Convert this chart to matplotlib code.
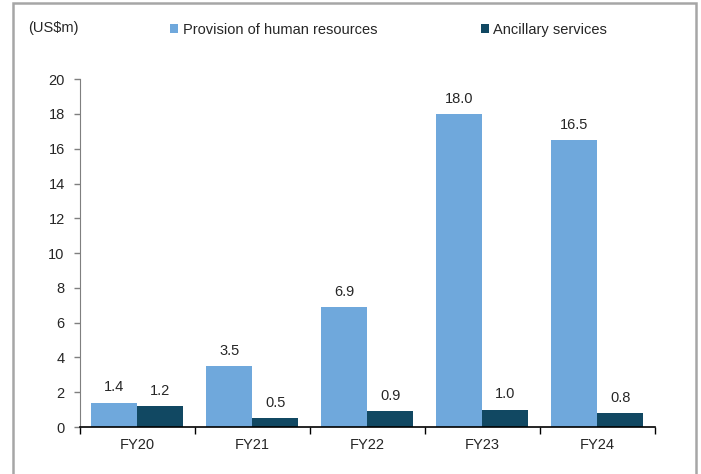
import matplotlib.pyplot as plt
import matplotlib.patches as mpatches
import numpy as np

years = ["FY20", "FY21", "FY22", "FY23", "FY24"]
human_res = [1.4, 3.5, 6.9, 18.0, 16.5]
ancillary = [1.2, 0.5, 0.9, 1.0, 0.8]
series_names = ["Provision of human resources", "Ancillary services"]
yticks = [0, 2, 4, 6, 8, 10, 12, 14, 16, 18, 20]

LIGHT = "#6fa8dc"
DARK = "#114862"
TEXT = "#262626"

plt.rcParams["font.family"] = ["Liberation Sans", "DejaVu Sans"]
FS = 10.5

fig = plt.figure(figsize=(7.01, 4.74), dpi=100)
ax = fig.add_axes([0.114, 0.099, 0.820, 0.734])

x = np.arange(len(years))
w = 0.4
b1 = ax.bar(x - w / 2, human_res, w, color=LIGHT, label=series_names[0])
b2 = ax.bar(x + w / 2, ancillary, w, color=DARK, label=series_names[1])

for bars, vals in ((b1, human_res), (b2, ancillary)):
    for bar, v in zip(bars, vals):
        ax.annotate(f"{v:.1f}", (bar.get_x() + bar.get_width() / 2, v),
                    xytext=(0, 6), textcoords="offset points",
                    ha="center", va="bottom", fontsize=FS, color=TEXT)

ax.set_xlim(-0.5, len(years) - 0.5)
ax.set_ylim(0, 20)
ax.set_yticks(yticks)
ax.set_yticklabels([str(t) for t in yticks], fontsize=FS, color=TEXT)

# category labels centred, ticks on the boundaries
ax.set_xticks(np.arange(-0.5, len(years)), minor=False)
ax.set_xticklabels([""] * (len(years) + 1))
ax.set_xticks(x, minor=True)
ax.set_xticklabels(years, minor=True, fontsize=FS, color=TEXT)
ax.tick_params(axis="x", which="minor", length=0, pad=8)
ax.tick_params(axis="x", which="major", length=5, width=1, color="black", direction="out")
ax.tick_params(axis="y", length=4, width=1, color="#7f7f7f", direction="out", pad=7)

for s in ("top", "right"):
    ax.spines[s].set_visible(False)
ax.spines["left"].set_color("#7f7f7f")
ax.spines["bottom"].set_color("black")
ax.spines["bottom"].set_linewidth(1.2)

fig.text(28 / 701, 1 - 28 / 474, "(US$m)", fontsize=FS, color=TEXT, va="center", ha="left")

leg = fig.legend(handles=[b1, b2], labels=series_names, loc="center left",
                 bbox_to_anchor=(157 / 701, 1 - 30 / 474), ncol=2, frameon=False,
                 fontsize=FS, handlelength=0.55, handleheight=0.55, handletextpad=0.3,
                 columnspacing=7.1, labelcolor=TEXT)

# grey frame around the figure (open at the bottom)
frame = mpatches.Rectangle((13 / 701, -0.1), 683 / 701, 1.1 - 3 / 474,
                           transform=fig.transFigure, fill=False,
                           edgecolor="#a6a6a6", linewidth=1.8)
fig.patches.append(frame)

fig.savefig("out.png", dpi=100)
